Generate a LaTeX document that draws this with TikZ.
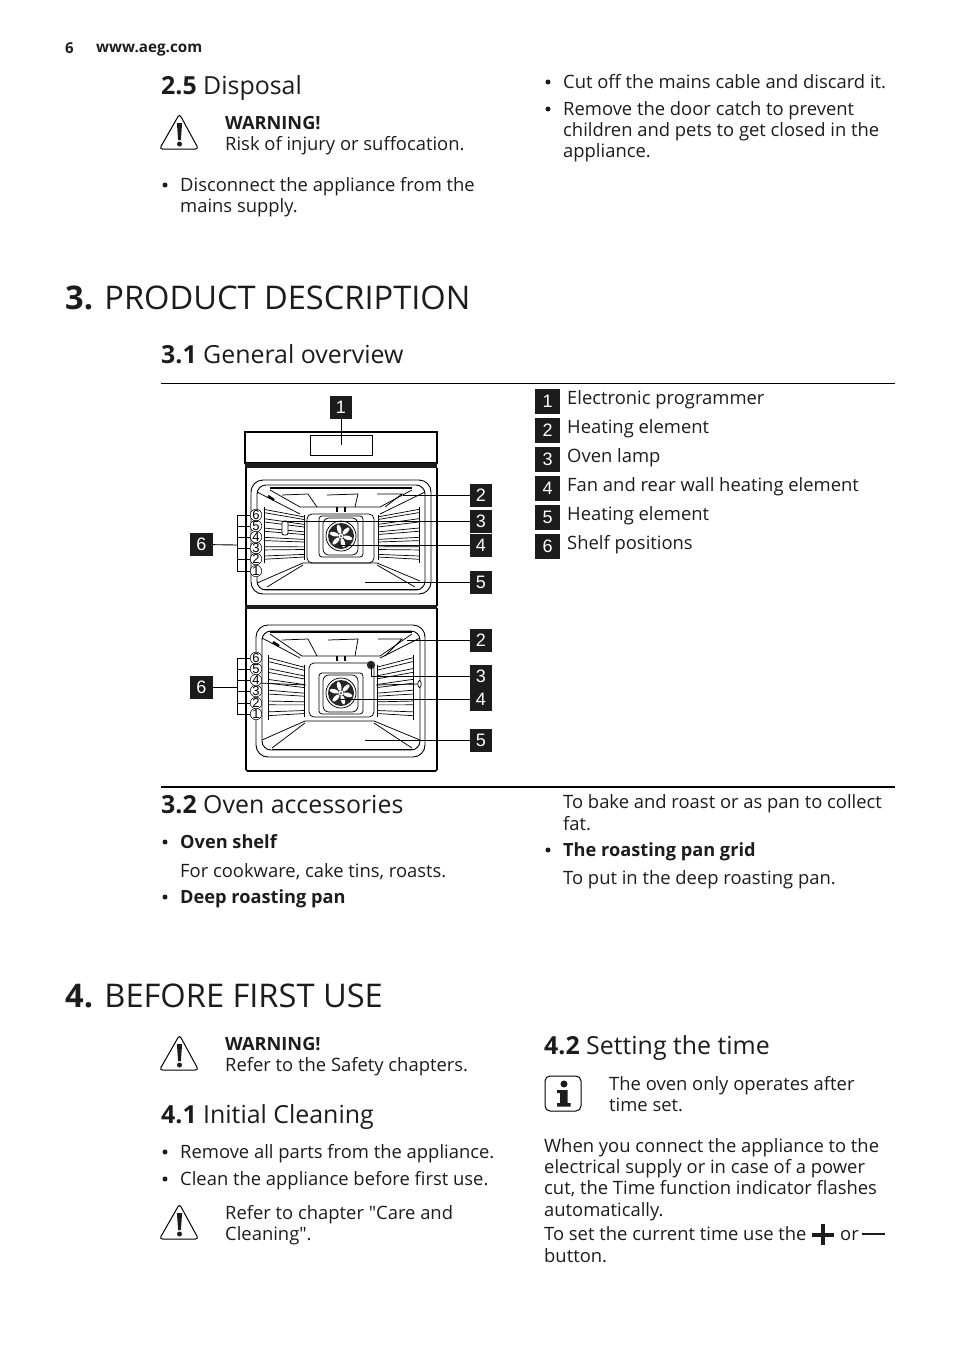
\documentclass[tikz,border=0pt]{standalone}
\usepackage{fontspec}
\setmainfont{Open Sans}
\newfontfamily\arialfont{Liberation Sans}
\newfontfamily\quotefont{Open Sans}
\definecolor{inkgray}{HTML}{1C1C1C}
\tikzset{
  bodytxt/.style = {anchor=base west,inner sep=0pt,text=inkgray,font=\fontsize{18.4}{21}\selectfont},
  boldtxt/.style = {bodytxt,font=\fontsize{18.2}{21}\selectfont\bfseries},
  dotmark/.style = {circle,fill=inkgray,inner sep=0pt,minimum size=5pt},
  subhead/.style = {anchor=base west,inner sep=0pt,text=inkgray,font=\fontsize{24.9}{28}\selectfont},
  mainhead/.style = {anchor=base west,inner sep=0pt,text=inkgray,font=\fontsize{32.6}{38}\selectfont},
  lblbox/.style = {fill=inkgray,text=white,inner sep=0pt,minimum width=22.5pt,minimum height=23pt,font=\arialfont\fontsize{18}{20}\selectfont},
  legbox/.style = {lblbox,minimum width=25pt,minimum height=25pt},
  shelfno/.style = {circle,draw,inner sep=0pt,minimum size=11pt,line width=0.5pt,font=\arialfont\fontsize{13}{13}\selectfont},
  leader/.style = {line width=0.9pt},
  wall/.style = {line width=1.6pt,rounded corners=1.5pt},
  fine/.style = {line width=0.75pt},
  warnsign/.pic = {
    \draw[line width=1pt,rounded corners=3pt,line join=round] (0,-36) -- (-20,-1) -- (19,-1) -- cycle;
    \fill[inkgray] (-2.6,-27) -- (2.6,-27) -- (1.4,-10) -- (-1.4,-10) -- cycle;
    \fill[inkgray] (0,-6) circle (2.5);
  },
  fanunit/.pic = {
    \draw[fine,rounded corners=3pt] (-22,-20) rectangle (22,21);
    \draw[fine,rounded corners=6pt] (-18,-18) rectangle (17,19);
    \draw[fine] (0,0) circle (15);
    \fill[black!85] (0,0) circle (13);
    \foreach \a in {0,60,...,300}
      \fill[white,rotate=\a+15] (0,-7) ellipse (2.1 and 4.8);
    \fill[white] (0,0) circle (2.4);
    \fill[black!85] (0,0) circle (1);
  },
}
\newcommand{\drawrack}[6]{
  \draw[line width=1pt] (#1,#2) -- (#1,#3);
  \draw[line width=0.8pt] (#4,#5) -- (#4,#6);
  \foreach \k in {0,1,2,3,4,5}{
    \draw[line width=0.7pt] (#1,{#2+(#3-#2)*(\k+0.25)/6}) -- (#4,{#5+(#6-#5)*(\k+0.25)/6});
    \draw[line width=0.7pt] (#1,{#2+(#3-#2)*(\k+0.6)/6}) -- (#4,{#5+(#6-#5)*(\k+0.6)/6});
  }
}
\begin{document}
\begin{tikzpicture}[x=1pt,y=-1pt]
\useasboundingbox (0,0) rectangle (954,1352);

% page header
\node[boldtxt,font=\fontsize{15}{18}\selectfont\bfseries] (pageno) at (65,53) {6};
\node[boldtxt,font=\fontsize{15.2}{18}\selectfont\bfseries] (site) at (96,52) {www.aeg.com};

% section 2.5
\node[subhead] (h25) at (161,94) {\textbf{2.5} Disposal};
\pic at (179.5,150) {warnsign};
\node[boldtxt] (w1a) at (225,129) {WARNING!};
\node[bodytxt] (w1b) at (225,150) {Risk of injury or suffocation.};
\node[dotmark] (d1) at (165,185) {};
\node[bodytxt] (d2) at (180,191) {Disconnect the appliance from the};
\node[bodytxt] (d3) at (180,212) {mains supply.};
\node[dotmark] (c1) at (548,82) {};
\node[bodytxt] (c2) at (563,88) {Cut off the mains cable and discard it.};
\node[dotmark] (c3) at (548,109) {};
\node[bodytxt] (c4) at (563,115) {Remove the door catch to prevent};
\node[bodytxt] (c5) at (563,136) {children and pets to get closed in the};
\node[bodytxt] (c6) at (563,157) {appliance.};

% section 3
\node[mainhead] (h3) at (65,309) {\textbf{3.} PRODUCT DESCRIPTION};
\node[subhead] (h31) at (161,363) {\textbf{3.1} General overview};
\draw[line width=1pt] (161,383) -- (895,383);
\foreach \n/\txt [count=\i from 0] in {1/Electronic programmer,2/Heating element,3/Oven lamp,4/Fan and rear wall heating element,5/Heating element,6/Shelf positions}{
  \node[legbox] (leg\n) at (547.5,401+29*\i) {\n};
  \node[bodytxt] (legt\n) at (567,404+29*\i) {\txt};
}

% upper oven
\draw[line width=1.6pt] (245,432) rectangle (437,463);
\fill[inkgray] (245,463) rectangle (437,468);
\draw[fine] (310,435) rectangle (372,455);
\draw[wall] (246,468) -- (246,606);
\draw[wall] (437,468) -- (437,606);
\fill[inkgray] (245,605) rectangle (437,608.5);
\draw[line width=0.9pt,rounded corners=12pt] (251,480) rectangle (431,594);
\draw[line width=0.9pt,rounded corners=9pt] (257,485) rectangle (425,590);
\draw[line width=1.1pt] (270,488) -- (412,488);
\draw[fine] (270,490) -- (300,507) -- (380,507) -- (412,490);
\draw[fine] (257,492) -- (300,514);
\draw[fine] (425,492) -- (380,514);
\draw[fine] (257,583) -- (303,563) -- (377,563) -- (420,581);
\draw[fine] (267,587) -- (303,565);
\draw[fine] (415,587) -- (377,565);
\draw[line width=1pt] (262,589) -- (420,589);
\draw[fine] (282,495) -- (308,494) -- (317,507);
\draw[fine] (327,495) -- (358,494) -- (355,507);
\draw[fine] (377,494) -- (402,494) -- (385,507);
\draw[fine,rounded corners=5pt] (307,514) rectangle (374,563);
\draw[line width=1.6pt] (337,507) -- (337,512);
\draw[line width=1.6pt] (345,507) -- (345,512);
\draw[line width=2.4pt] (268,496) -- (274,500);
\drawrack{264}{507}{563}{304}{515}{560}
\drawrack{419}{507}{563}{378}{515}{560}
\draw[fine,rounded corners=2pt,fill=white] (282,521) rectangle (288,535);
\pic at (341,536) {fanunit};

% upper oven labels
\node[lblbox] (top1) at (341,407) {1};
\coordinate (end1) at (341,445);
\draw[leader] (top1) -- (end1);
\foreach \n/\yy/\xend in {2/495/403,3/521.5/283,4/545/340,5/582/365}{
  \node[lblbox] (top\n) at (481,\yy) {\n};
  \coordinate (end\n) at (\xend,\yy);
  \draw[leader] (top\n) -- (end\n);
}
\coordinate (brkA) at (237,545);
\foreach \n/\yy in {6/515,5/526,4/537,3/548,2/559,1/571}{
  \node[shelfno,fill=white] (sha\n) at (256,\yy) {\n};
  \draw[fine] (237,\yy) -- (sha\n);
}
\draw[fine] (237,515) -- (237,571);
\node[lblbox] (top6) at (201.5,544.5) {6};
\draw[leader] (top6) -- (brkA);

% lower oven
\draw[wall] (246,608) -- (246,771) -- (437,771) -- (437,608);
\draw[line width=0.9pt,rounded corners=12pt] (256,625) rectangle (425,757);
\draw[line width=0.9pt,rounded corners=9pt] (262,631) rectangle (420,750);
\draw[line width=1.1pt] (270,632) -- (412,632);
\draw[fine] (270,634) -- (302,656) -- (380,656) -- (412,634);
\draw[fine] (262,638) -- (300,658);
\draw[fine] (420,638) -- (380,658);
\draw[fine] (262,740) -- (305,721) -- (374,721) -- (420,740);
\draw[fine] (272,748) -- (305,723);
\draw[fine] (412,748) -- (374,723);
\draw[line width=1pt] (272,749) -- (412,749);
\draw[fine] (282,640) -- (308,639) -- (317,656);
\draw[fine] (328,640) -- (358,639) -- (355,656);
\draw[fine] (378,639) -- (402,639) -- (385,656);
\draw[fine,rounded corners=5pt] (309,663) rectangle (374,717);
\draw[line width=1.6pt] (337,656) -- (337,661);
\draw[line width=1.6pt] (345,656) -- (345,661);
\draw[line width=2.4pt] (273,642) -- (279,646);
\drawrack{268}{655}{720}{304}{665}{717}
\drawrack{413}{655}{720}{377}{665}{717}
\draw[fine] (259,683) -- (306,685);
\draw[fine] (376,685) -- (420,684);
\draw[fine,fill=white] (419.5,684) ellipse (1.7 and 3.5);
\fill[black!85] (371,665) circle (4.2);
\pic at (341,693) {fanunit};

% lower oven labels
\foreach \n/\yy/\xend in {2/640.5/407,4/699.5/340,5/740.5/365}{
  \node[lblbox] (bot\n) at (481,\yy) {\n};
  \coordinate (bend\n) at (\xend,\yy);
  \draw[leader] (bot\n) -- (bend\n);
}
\node[lblbox] (bot3) at (481,676.5) {3};
\coordinate (lamp) at (371,665);
\draw[leader] (bot3) -- (371,676.5) -- (lamp);
\coordinate (brkB) at (237,687.5);
\foreach \n/\yy in {6/658,5/669,4/680,3/691,2/703,1/714}{
  \node[shelfno,fill=white] (shb\n) at (256,\yy) {\n};
  \draw[fine] (237,\yy) -- (shb\n);
}
\draw[fine] (237,658) -- (237,714);
\node[lblbox] (bot6) at (201.5,687.5) {6};
\draw[leader] (bot6) -- (brkB);

% section 3.2
\draw[line width=1.3pt] (161,787) -- (895,787);
\node[subhead] (h32) at (161,813) {\textbf{3.2} Oven accessories};
\node[dotmark] (e1) at (165,842) {};
\node[boldtxt] (e2) at (180,848) {Oven shelf};
\node[bodytxt] (e3) at (180,877) {For cookware, cake tins, roasts.};
\node[dotmark] (e4) at (165,897) {};
\node[boldtxt] (e5) at (180,903) {Deep roasting pan};
\node[bodytxt] (f1) at (563,808) {To bake and roast or as pan to collect};
\node[bodytxt] (f2) at (563,830) {fat.};
\node[dotmark] (f3) at (548,850) {};
\node[boldtxt] (f4) at (563,856) {The roasting pan grid};
\node[bodytxt] (f5) at (563,884) {To put in the deep roasting pan.};

% section 4
\node[mainhead] (h4) at (65,1007) {\textbf{4.} BEFORE FIRST USE};
\pic at (179.5,1071) {warnsign};
\node[boldtxt] (w2a) at (225,1050) {WARNING!};
\node[bodytxt] (w2b) at (225,1071) {Refer to the Safety chapters.};
\node[subhead] (h41) at (161,1123) {\textbf{4.1} Initial Cleaning};
\node[dotmark] (g1) at (165,1152) {};
\node[bodytxt] (g2) at (180,1158) {Remove all parts from the appliance.};
\node[dotmark] (g3) at (165,1179) {};
\node[bodytxt] (g4) at (180,1185) {Clean the appliance before first use.};
\pic at (179.5,1240) {warnsign};
\node[bodytxt] (w3a) at (225,1219) {Refer to chapter {\quotefont"}Care and};
\node[bodytxt] (w3b) at (225,1240) {Cleaning{\quotefont"}.};

% section 4.2
\node[subhead] (h42) at (544,1054) {\textbf{4.2} Setting the time};
\draw[line width=1pt,rounded corners=5pt] (545,1076) rectangle (581,1111);
\fill[inkgray] (564,1084) circle (3.5);
\fill[inkgray] (557,1090) -- (567.5,1090) -- (567.5,1103) -- (570.5,1103) -- (570.5,1106.5) -- (557,1106.5) -- (557,1103) -- (560,1103) -- (560,1093) -- (557,1093) -- cycle;
\node[bodytxt] (n1) at (609,1090) {The oven only operates after};
\node[bodytxt] (n2) at (609,1111) {time set.};
\node[bodytxt] (p1) at (544,1152) {When you connect the appliance to the};
\node[bodytxt] (p2) at (544,1173) {electrical supply or in case of a power};
\node[bodytxt] (p3) at (544,1194) {cut, the Time function indicator flashes};
\node[bodytxt] (p4) at (544,1216) {automatically.};
\node[bodytxt] (p5) at (544,1240) {To set the current time use the};
\draw[inkgray,line width=4pt] (812,1235) -- (834,1235);
\draw[inkgray,line width=4pt] (823,1224) -- (823,1245);
\node[bodytxt] (p6) at (840,1240) {or};
\draw[inkgray,line width=2.5pt] (862,1234) -- (885,1234);
\node[bodytxt] (p7) at (544,1262) {button.};
\end{tikzpicture}
\end{document}
